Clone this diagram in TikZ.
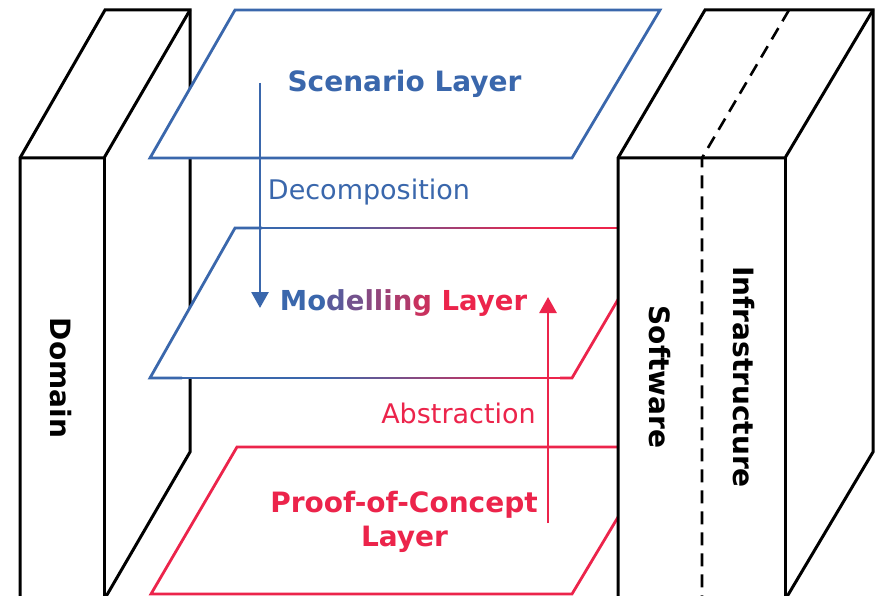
\documentclass[tikz,border=0pt]{standalone}
\usepackage{fontspec}
\setmainfont{DejaVu Sans}
\usetikzlibrary{arrows.meta}
\definecolor{lblue}{HTML}{3A67AC}
\definecolor{lred}{HTML}{EC244B}
\newcommand{\boldlbl}{\bfseries\fontsize{28}{32}\selectfont}
\newcommand{\plainlbl}{\fontsize{27}{31}\selectfont}
% blue-to-red mix along x for the middle layer
\newcommand{\mixat}[1]{\pgfmathtruncatemacro\mixp{min(100,max(0,(#1-320)/220*100))}}
\tikzset{
  edge3d/.style={draw=black, line width=3pt, line join=miter},
  layerline/.style={line width=2.8pt, line join=miter},
  arrowline/.style={line width=2.8pt, -{Triangle[length=16pt,width=17pt]}},
  boldtext/.style={font=\boldlbl, inner sep=0pt},
  plaintext/.style={font=\plainlbl, inner sep=0pt},
}
\begin{document}
\begin{tikzpicture}[x=1pt,y=-1pt]
  \useasboundingbox (0,0) rectangle (875,596);
  \fill[white] (0,0) rectangle (875,596);

  % left block: Domain
  \fill[white] (20,610) -- (20,158) -- (105,10) -- (190,10) -- (190,452) -- (104,600) -- (104,610) -- cycle;
  \draw[edge3d] (20,610) -- (20,158) -- (105,10) -- (190,10) -- (190,452) -- (104,600);
  \draw[edge3d] (20,158) -- (104,158) -- (190,10);
  \draw[edge3d] (104,158) -- (104,610);

  % scenario layer
  \filldraw[layerline, draw=lblue, fill=white] (150,158) -- (235,10) -- (660,10) -- (572,158) -- cycle;

  % modelling layer with a blue-to-red outline
  \fill[white] (150,378) -- (235,228) -- (660,228) -- (572,378) -- cycle;
  \draw[layerline, lblue] (262,228) -- (235,228) -- (150,378) -- (182,378);
  \foreach \i in {0,...,79}{
    \pgfmathsetmacro\xa{262+4.975*\i}
    \pgfmathsetmacro\xb{\xa+5.4}
    \mixat{\xa+2.5}
    \draw[layerline, draw=lred!\mixp!lblue] (\xa,228) -- (\xb,228);
  }
  \foreach \i in {0,...,59}{
    \pgfmathsetmacro\xa{180+6.33*\i}
    \pgfmathsetmacro\xb{\xa+6.8}
    \mixat{\xa+3}
    \draw[layerline, draw=lred!\mixp!lblue] (\xa,378) -- (\xb,378);
  }
  \draw[layerline, lred] (560,378) -- (572,378) -- (660,228);

  % proof-of-concept layer
  \filldraw[layerline, draw=lred, fill=white] (151,594) -- (237,447) -- (660,447) -- (572,594) -- cycle;

  % right block: Software | Infrastructure
  \fill[white] (618,610) -- (618,158) -- (705,10) -- (873,10) -- (873,452) -- (785,600) -- (785,610) -- cycle;
  \draw[edge3d] (618,610) -- (618,158) -- (705,10) -- (873,10) -- (873,452) -- (785,600);
  \draw[edge3d] (618,158) -- (785,158) -- (873,10);
  \draw[edge3d] (785,158) -- (785,610);
  \draw[line width=2.6pt, dash pattern=on 13pt off 8pt] (789,10) -- (702,158) -- (702,610);

  % labels
  \node[boldtext, text=lblue, anchor=base] (scen) at (404.5,92) {Scenario Layer};
  \node[plaintext, text=lblue, anchor=base] (dec) at (369,200) {Decomposition};
  \node[boldtext, anchor=base, font=\bfseries\fontsize{27.5}{32}\selectfont] (model) at (403.5,310)
    {\color{lblue}Mo\color{lred!19!lblue}d\color{lred!32!lblue}e\color{lred!43!lblue}l\color{lred!49!lblue}l\color{lred!56!lblue}i\color{lred!66!lblue}n\color{lred!80!lblue}g \color{lred}Layer};
  \node[plaintext, text=lred, anchor=base] (abs) at (458.5,423) {Abstraction};
  \node[boldtext, text=lred, anchor=base] (poc1) at (404,512) {Proof-of-Concept};
  \node[boldtext, text=lred, anchor=base] (poc2) at (404.5,546) {Layer};
  \node[boldtext, rotate=-90] (dom) at (61,378) {Domain};
  \node[boldtext, rotate=-90] (soft) at (660,377) {Software};
  \node[boldtext, rotate=-90] (infra) at (744,377) {Infrastructure};

  % arrows between layers
  \coordinate (decA) at (260,83);
  \coordinate (decB) at (260,308);
  \coordinate (absA) at (548,523);
  \coordinate (absB) at (548,297);
  \draw[arrowline, lblue] (decA) -- (decB);
  \draw[arrowline, lred] (absA) -- (absB);
\end{tikzpicture}
\end{document}
